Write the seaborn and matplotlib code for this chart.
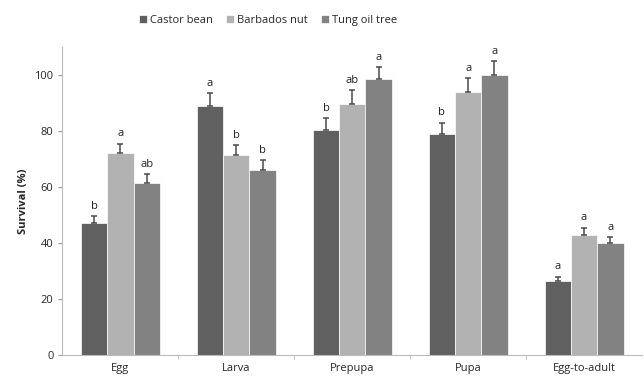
import pandas as pd
import numpy as np
import matplotlib
matplotlib.use("Agg")
import matplotlib.pyplot as plt
import seaborn as sns

# Data
stages = ["Egg", "Larva", "Prepupa", "Pupa", "Egg-to-adult"]
hosts = ["Castor bean", "Barbados nut", "Tung oil tree"]
castor = [47, 89, 80.5, 79, 26.5]
barbados = [72, 71.5, 89.5, 94, 43]
tung = [61.5, 66, 98.5, 100, 40]
castor_err = [2.5, 4.5, 4, 4, 1.5]
barbados_err = [3.5, 3.5, 5, 5, 2.5]
tung_err = [3, 3.5, 4.5, 5, 2]
castor_lbl = ["b", "a", "b", "b", "a"]
barbados_lbl = ["a", "b", "ab", "a", "a"]
tung_lbl = ["ab", "b", "a", "a", "a"]

rows = []
for host, vals, errs, lbls in zip(hosts, [castor, barbados, tung],
                                  [castor_err, barbados_err, tung_err],
                                  [castor_lbl, barbados_lbl, tung_lbl]):
    for s, v, e, l in zip(stages, vals, errs, lbls):
        rows.append({"Stage": s, "Host": host, "Survival": v, "SE": e, "Letter": l})
df = pd.DataFrame(rows)

sns.set_style("white")
plt.rcParams['font.family'] = ['Open Sans', 'DejaVu Sans']

colors = ["#606060", "#b2b2b2", "#828282"]
fig = plt.figure(figsize=(6.44, 3.83), dpi=100)
ax = fig.add_axes([0.097, 0.073, 0.9, 0.804])

sns.barplot(data=df, x="Stage", y="Survival", hue="Host", order=stages,
            hue_order=hosts, palette=colors, width=0.68, errorbar=None,
            edgecolor="white", linewidth=0.5, ax=ax)

# error bars (upper only) and significance letters, placed on the drawn bars
for container, host in zip(ax.containers, hosts):
    sub = df[df["Host"] == host].set_index("Stage").loc[stages]
    xs = [p.get_x() + p.get_width() / 2 for p in container.patches]
    ys = sub["Survival"].values
    es = sub["SE"].values
    ax.errorbar(xs, ys, yerr=[np.zeros_like(es), es], fmt="none",
                ecolor="#4a4a4a", elinewidth=1.1, capsize=2.5, capthick=1.1)
    for x, y, e, l in zip(xs, ys, es, sub["Letter"].values):
        ax.text(x, y + e + 1.5, l, ha="center", va="bottom", fontsize=8, color="#222222")

ax.set_ylim(0, 110)
ax.set_xlim(-0.5, 4.5)
ax.set_yticks([0, 20, 40, 60, 80, 100])
ax.tick_params(axis="y", labelsize=8, length=3, color="#999999", direction="out", left=True)
ax.tick_params(axis="x", labelsize=8, length=0, pad=6)
ax.set_xticks(np.arange(0.5, 4.5, 1.0), minor=True)
ax.tick_params(axis="x", which="minor", length=3, color="#bbbbbb", bottom=True)
ax.set_xlabel("")
ax.set_ylabel("Survival (%)", fontsize=8, fontweight="bold")

for side in ["top", "right"]:
    ax.spines[side].set_visible(False)
for side in ["left", "bottom"]:
    ax.spines[side].set_color("#bbbbbb")
    ax.spines[side].set_linewidth(0.8)

ax.legend(loc="center", bbox_to_anchor=(0.355, 1.088), ncol=3, frameon=False,
          fontsize=8, handlelength=0.7, handleheight=0.7, handletextpad=0.3,
          columnspacing=1.2)

fig.savefig("out.png", dpi=100)
